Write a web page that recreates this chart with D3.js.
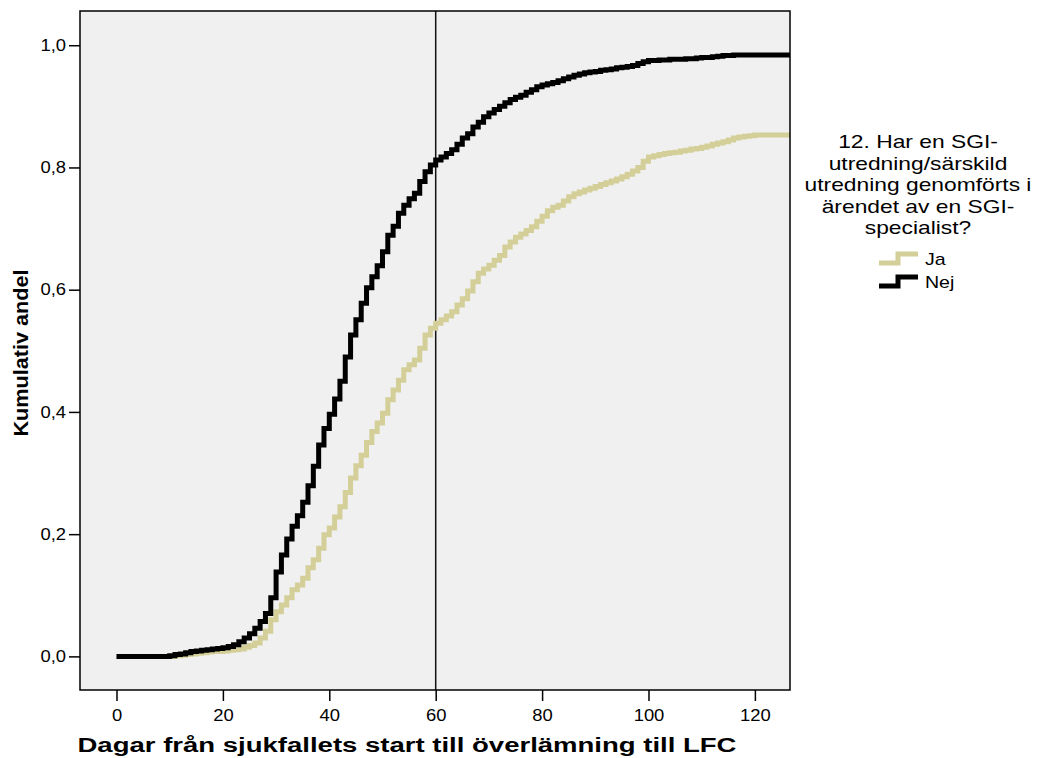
<!DOCTYPE html>
<html>
<head>
<meta charset="utf-8">
<script src="https://cdn.jsdelivr.net/npm/d3@7"></script>
<style>
    body { margin: 0; background: #ffffff; }
    text { font-family: Arial, "Liberation Sans", sans-serif; fill: #000; }
</style>
</head>
<body>
<div id="mydiv"></div>
<script>
// cumulative share per day (index = day from 0)
var nejValues = [
    0, 0, 0, 0, 0, 0, 0, 0, 0, 0,
    0.001, 0.003, 0.004, 0.006, 0.008, 0.009, 0.010, 0.011, 0.012, 0.013,
    0.014, 0.016, 0.019, 0.024, 0.030, 0.037, 0.046, 0.057, 0.070, 0.096,
    0.138, 0.166, 0.192, 0.213, 0.230, 0.252, 0.279, 0.311, 0.346, 0.373,
    0.396, 0.421, 0.450, 0.490, 0.526, 0.551, 0.578, 0.603, 0.621, 0.639,
    0.662, 0.689, 0.704, 0.725, 0.738, 0.749, 0.758, 0.777, 0.793, 0.804,
    0.812, 0.817, 0.823, 0.829, 0.838, 0.848, 0.855, 0.866, 0.874, 0.883,
    0.889, 0.895, 0.900, 0.906, 0.911, 0.915, 0.918, 0.923, 0.927, 0.932,
    0.935, 0.937, 0.939, 0.942, 0.945, 0.948, 0.951, 0.953, 0.955, 0.956,
    0.957, 0.959, 0.960, 0.961, 0.963, 0.964, 0.965, 0.967, 0.970, 0.973,
    0.975, 0.975, 0.976, 0.976, 0.977, 0.977, 0.977, 0.978, 0.978, 0.979,
    0.980, 0.980, 0.981, 0.982, 0.983, 0.983, 0.984, 0.984, 0.984, 0.984,
    0.984, 0.984, 0.984, 0.984, 0.984, 0.984, 0.984, 0.984
];

var jaValues = [
    0, 0, 0, 0, 0, 0, 0, 0, 0, 0,
    0, 0.001, 0.002, 0.003, 0.004, 0.005, 0.006, 0.007, 0.008, 0.008,
    0.009, 0.010, 0.011, 0.012, 0.015, 0.018, 0.022, 0.030, 0.041, 0.060,
    0.073, 0.084, 0.096, 0.109, 0.117, 0.128, 0.145, 0.158, 0.177, 0.199,
    0.210, 0.228, 0.245, 0.268, 0.292, 0.312, 0.329, 0.350, 0.368, 0.382,
    0.398, 0.420, 0.436, 0.452, 0.469, 0.477, 0.485, 0.504, 0.526, 0.537,
    0.545, 0.551, 0.557, 0.564, 0.575, 0.585, 0.598, 0.613, 0.627, 0.634,
    0.640, 0.648, 0.656, 0.670, 0.678, 0.686, 0.691, 0.697, 0.703, 0.712,
    0.720, 0.729, 0.735, 0.738, 0.745, 0.752, 0.757, 0.760, 0.763, 0.766,
    0.769, 0.772, 0.775, 0.778, 0.781, 0.785, 0.789, 0.794, 0.800, 0.810,
    0.817, 0.819, 0.821, 0.823, 0.824, 0.825, 0.827, 0.828, 0.830, 0.831,
    0.833, 0.835, 0.838, 0.840, 0.842, 0.845, 0.848, 0.850, 0.851, 0.852,
    0.853, 0.853, 0.853, 0.853, 0.853, 0.853, 0.853, 0.853
];

var seriesNames = ["Ja", "Nej"];
var seriesColors = ["#d4cf98", "#000000"];
var xTicks = [0, 20, 40, 60, 80, 100, 120];
var yTicks = [0, 0.2, 0.4, 0.6, 0.8, 1.0];
var refLineDay = 60;

var legendTitle = [
    "12. Har en SGI-",
    "utredning/särskild",
    "utredning genomförts i",
    "ärendet av en SGI-",
    "specialist?"
];

var overAllWidth = 1040;
var overAllHeight = 758;

var plotLeft = 80, plotRight = 790, plotTop = 11, plotBottom = 690;

// SPSS text is drawn a bit wider than Arial
function stretch(sel, k) {
    sel.each(function () {
        var w = this.getComputedTextLength();
        d3.select(this)
            .attr('textLength', w * k)
            .attr('lengthAdjust', 'spacingAndGlyphs');
    });
}

function main() {
    var svg = d3.select('#mydiv')
        .append('svg')
        .attr('width', overAllWidth)
        .attr('height', overAllHeight);

    var x = d3.scaleLinear()
        .domain([-6.86, 126.6])
        .range([plotLeft, plotRight]);

    var y = d3.scaleLinear()
        .domain([-0.055, 1.056])
        .range([plotBottom, plotTop]);

    var commaFmt = d3.formatLocale({ decimal: ",", thousands: " ", grouping: [3], currency: ["", ""] }).format(".1f");

    svg.append('rect')
        .attr('x', plotLeft)
        .attr('y', plotTop)
        .attr('width', plotRight - plotLeft)
        .attr('height', plotBottom - plotTop)
        .attr('fill', '#f0f0f0');

    svg.append('clipPath')
        .attr('id', 'plotclip')
        .append('rect')
        .attr('x', plotLeft)
        .attr('y', plotTop)
        .attr('width', plotRight - plotLeft)
        .attr('height', plotBottom - plotTop);

    // reference line at day 60
    svg.append('line')
        .attr('x1', x(refLineDay))
        .attr('x2', x(refLineDay))
        .attr('y1', plotTop)
        .attr('y2', plotBottom)
        .attr('stroke', '#111')
        .attr('stroke-width', 1.5);

    var line = d3.line()
        .x(function (d) { return x(d[0]); })
        .y(function (d) { return y(d[1]); })
        .curve(d3.curveStepAfter);

    var allSeries = [jaValues, nejValues];

    var lines = svg.append('g').attr('clip-path', 'url(#plotclip)');

    allSeries.forEach(function (vals, i) {
        var pts = vals.map(function (v, day) { return [day, v]; });
        pts.push([vals.length, vals[vals.length - 1]]);
        lines.append('path')
            .attr('d', line(pts))
            .attr('fill', 'none')
            .attr('stroke', seriesColors[i])
            .attr('stroke-width', 5);
    });

    // frame
    svg.append('rect')
        .attr('x', plotLeft)
        .attr('y', plotTop)
        .attr('width', plotRight - plotLeft)
        .attr('height', plotBottom - plotTop)
        .attr('fill', 'none')
        .attr('stroke', '#000')
        .attr('stroke-width', 1.5);

    var yAxis = svg.append('g')
        .attr('transform', 'translate(' + plotLeft + ',0)')
        .call(d3.axisLeft(y).tickValues(yTicks).tickSize(11).tickPadding(3).tickFormat(commaFmt));

    var xAxis = svg.append('g')
        .attr('transform', 'translate(0,' + plotBottom + ')')
        .call(d3.axisBottom(x).tickValues(xTicks).tickSize(11).tickPadding(9));

    [xAxis, yAxis].forEach(function (ax) {
        ax.select('.domain').remove();
        ax.selectAll('line').attr('stroke', '#000').attr('stroke-width', 1.5);
        ax.selectAll('text')
            .attr('font-family', 'Arial, "Liberation Sans", sans-serif')
            .attr('font-size', 16)
            .attr('fill', '#000')
            .call(stretch, 1.15);
    });

    svg.append('text')
        .attr('x', 407)
        .attr('y', 752)
        .attr('text-anchor', 'middle')
        .attr('font-size', 20)
        .attr('font-weight', 'bold')
        .attr('textLength', 659)
        .attr('lengthAdjust', 'spacingAndGlyphs')
        .text('Dagar från sjukfallets start till överlämning till LFC');

    svg.append('text')
        .attr('transform', 'translate(28,353) rotate(-90)')
        .attr('text-anchor', 'middle')
        .attr('font-size', 20)
        .attr('font-weight', 'bold')
        .attr('textLength', 167)
        .attr('lengthAdjust', 'spacingAndGlyphs')
        .text('Kumulativ andel');

    // legend
    var legend = svg.append('g');

    legend.selectAll('text.title')
        .data(legendTitle)
        .enter()
        .append('text')
        .attr('class', 'title')
        .attr('x', 918)
        .attr('y', function (d, i) { return 148 + i * 21.6; })
        .attr('text-anchor', 'middle')
        .attr('font-size', 19)
        .text(function (d) { return d; })
        .call(stretch, 1.2);

    var items = legend.selectAll('g.item')
        .data(seriesNames)
        .enter()
        .append('g')
        .attr('class', 'item')
        .attr('transform', function (d, i) { return 'translate(0,' + (i * 23) + ')'; });

    items.append('path')
        .attr('d', 'M879,263 H898 V254 H918')
        .attr('fill', 'none')
        .attr('stroke', function (d, i) { return seriesColors[i]; })
        .attr('stroke-width', 5);

    items.append('text')
        .attr('x', 925)
        .attr('y', 265)
        .attr('font-size', 17)
        .text(function (d) { return d; })
        .call(stretch, 1.15);
}

main();
</script>
</body>
</html>
